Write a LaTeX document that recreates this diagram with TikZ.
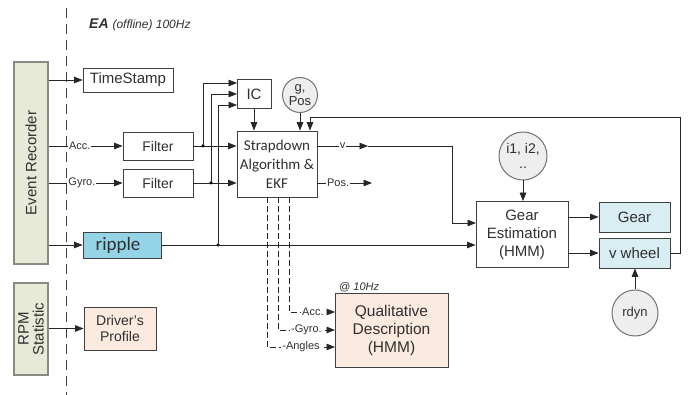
\documentclass[tikz,border=0pt]{standalone}
\usepackage{fontspec}
\setmainfont{Liberation Sans}
\newfontfamily\carl{Carlito}
\usetikzlibrary{arrows.meta}
\definecolor{sage}{HTML}{E6EAD6}
\definecolor{sageborder}{HTML}{8A8A80}
\definecolor{ripblue}{HTML}{95D4E6}
\definecolor{gearblue}{HTML}{D8EEF3}
\definecolor{peach}{HTML}{FBEADF}
\definecolor{circfill}{HTML}{EEEEEE}
\definecolor{txt}{HTML}{303030}
\begin{document}
\begin{tikzpicture}[x=1pt,y=-1pt,
  box/.style={draw=black!75,line width=0.8pt,inner sep=0pt,align=center,text=txt,font=\fontsize{14}{16}\selectfont},
  sidebox/.style={draw=sageborder,line width=1.3pt,fill=sage,inner sep=0pt},
  circ/.style={circle,draw=black!55,line width=1pt,fill=circfill,inner sep=0pt,align=center,text=txt,font=\fontsize{13}{14}\selectfont},
  arr/.style={-{Triangle[length=8.5pt,width=6.5pt]},line width=0.8pt,draw=black!85},
  lbl/.style={fill=white,inner sep=1pt,text=txt,font=\fontsize{11}{12}\selectfont},
  dot/.style={circle,fill=black,inner sep=0pt,minimum size=3.5pt}
]
\useasboundingbox (0,0) rectangle (694,395);

% separator and title
\coordinate (sepT) at (66,8);
\coordinate (sepB) at (66,395);
\draw[line width=0.8pt,black!75,dash pattern=on 10pt off 6pt] (sepT) -- (sepB);
\node[anchor=west,inner sep=0pt,text=txt] (title) at (89,25)
  {\fontsize{14}{16}\selectfont\bfseries\itshape EA\ \fontsize{12}{14}\selectfont\mdseries\itshape (offline) 100Hz};

% side boxes
\node[sidebox,minimum width=34pt,minimum height=202pt] (ER) at (31,163) {};
\node[rotate=90,text=txt,font=\fontsize{15}{16}\selectfont] (ERt) at (ER.center) {Event Recorder};
\node[sidebox,minimum width=34pt,minimum height=92pt] (RPM) at (31,329) {};
\node[rotate=90,text=txt,align=center,font=\fontsize{15}{15}\selectfont] (RPMt) at (RPM.center) {RPM\\Statistic};

% boxes
\node[box,minimum width=90pt,minimum height=24pt,font=\fontsize{15}{16}\selectfont] (TS) at (128,80) {TimeStamp};
\node[box,minimum width=70pt,minimum height=28pt] (F1) at (158,146) {Filter};
\node[box,minimum width=70pt,minimum height=28pt] (F2) at (158,183) {Filter};
\node[box,fill=ripblue,minimum width=78pt,minimum height=26pt,font=\carl\fontsize{19}{20}\selectfont] (RP) at (122,245) {\hspace*{-8pt}ripple};
\node[box,fill=peach,minimum width=72pt,minimum height=43pt,font=\fontsize{14}{16}\selectfont] (DP) at (120,328.5) {Driver's\\Profile};
\node[box,minimum width=34pt,minimum height=29pt,font=\fontsize{15}{16}\selectfont] (IC) at (254,94) {IC};
\node[circ,minimum size=35pt] (GP) at (300,95) {g,\\Pos};
\node[box,minimum width=80pt,minimum height=66pt,font=\carl\fontsize{15}{19}\selectfont] (SD) at (277,164) {Strapdown\\Algorithm \&\\EKF};
\node[box,minimum width=92pt,minimum height=66pt,font=\fontsize{15}{18}\selectfont] (GE) at (522,234.5) {Gear\\Estimation\\(HMM)};
\node[box,fill=gearblue,minimum width=71pt,minimum height=30pt,font=\fontsize{15}{16}\selectfont] (G) at (634.5,217) {Gear};
\node[box,fill=gearblue,minimum width=71pt,minimum height=30pt,font=\fontsize{15}{16}\selectfont] (VW) at (634.5,253) {v wheel};
\node[circ,minimum size=48pt,font=\fontsize{14}{15}\selectfont] (I12) at (523,156) {i1, i2,\\..};
\node[circ,minimum size=46pt] (RD) at (635,313) {rdyn};
\node[box,fill=peach,minimum width=113pt,minimum height=74pt,font=\fontsize{15.5}{18}\selectfont] (QD) at (391.5,330) {Qualitative\\Description\\(HMM)};
\node[anchor=south west,inner sep=0pt,text=txt,font=\fontsize{11}{12}\selectfont\itshape] (hz) at (339,292) {@ 10Hz};

% inputs from recorders
\draw[arr] (ER.east |- TS.west) -- (TS.west);
\draw[arr] (ER.east |- F1.west) -- node[lbl,pos=0.42]{Acc.} (F1.west);
\draw[arr] (ER.east |- F2.west) -- node[lbl,pos=0.45]{Gyro.} (F2.west);
\draw[arr] (ER.east |- RP.west) -- (RP.west);
\draw[arr] (RPM.east |- DP.west) -- (DP.west);

% filters to strapdown
\draw[arr] (F1.east) -- (SD.west |- F1.east);
\draw[arr] (F2.east) -- (SD.west |- F2.east);

% junctions to IC
\coordinate (j1) at (203,146);
\coordinate (j2) at (211,183);
\coordinate (j3) at (218,245);
\coordinate (ic1) at (237,83);
\coordinate (ic2) at (237,94);
\coordinate (ic3) at (237,105);
\node[dot] (d1) at (j1) {};
\node[dot] (d2) at (j2) {};
\node[dot] (d3) at (j3) {};
\draw[arr] (j1) |- (ic1);
\draw[arr] (j2) |- (ic2);
\draw[arr] (j3) |- (ic3);

% into strapdown from top
\draw[arr] (IC.south) -- (IC.south |- SD.north);
\draw[arr] (GP.south) -- (GP.south |- SD.north);
\coordinate (fbR) at (680,117);
\coordinate (fbL) at (310,117);
\draw[arr] (VW.east) -| (fbR) -- (fbL) -- (fbL |- SD.north);

% strapdown outputs
\coordinate (vA) at (368,146);
\coordinate (vK) at (452,146);
\coordinate (ge1) at (476,223);
\draw[arr] (SD.east |- F1.east) -- node[lbl,pos=0.5]{v} (vA);
\draw[arr] (vA) -- (vK) |- (ge1);
\coordinate (pA) at (372,183);
\draw[arr] (SD.east |- F2.east) -- node[lbl,pos=0.38]{Pos.} (pA);

% ripple to gear estimation
\draw[arr] (RP.east) -- (GE.west |- RP.east);

% gear estimation outputs
\draw[arr] (GE.east |- G.west) -- (G.west);
\draw[arr] (GE.east |- VW.west) -- (VW.west);
\draw[arr] (I12.south) -- (GE.north -| I12.south);
\draw[arr] (RD.north) -- (VW.south -| RD.north);

% dashed to qualitative description
\coordinate (sa) at (289,197);
\coordinate (sg) at (278,197);
\coordinate (sn) at (267,197);
\coordinate (qa) at (335,312);
\coordinate (qg) at (335,330);
\coordinate (qn) at (335,347);
\draw[arr,dash pattern=on 6pt off 3pt] (sa) |- node[lbl,pos=0.76]{Acc.} (qa);
\draw[arr,dash pattern=on 6pt off 3pt] (sg) |- node[lbl,pos=0.75]{-Gyro.} (qg);
\draw[arr,dash pattern=on 6pt off 3pt] (sn) |- node[lbl,pos=0.75]{-Angles} (qn);
\end{tikzpicture}
\end{document}
